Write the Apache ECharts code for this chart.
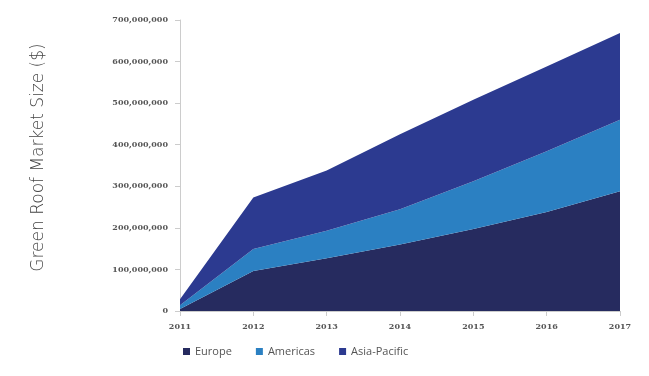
<!DOCTYPE html>
<html><head><meta charset="utf-8">
<script src="https://cdn.jsdelivr.net/npm/echarts@6/dist/echarts.min.js"></script>
<style>html,body{margin:0;padding:0;background:#fff}#c{width:649px;height:376px}</style>
</head><body><div id="c"></div>
<script>
const years = ['2011','2012','2013','2014','2015','2016','2017'];
const europe = [5000000, 96000000, 127000000, 160000000, 197000000, 238000000, 288000000];
const americas = [9000000, 53000000, 66000000, 85000000, 115000000, 146000000, 172000000];
const asiaPacific = [14000000, 124000000, 145000000, 180000000, 196000000, 204000000, 209000000];
const seriesNames = ['Europe','Americas','Asia-Pacific'];
const colors = ['#262b5f','#2b80c2','#2c3a90'];
const yTitle = 'Green Roof Market Size ($)';

const chart = echarts.init(document.getElementById('c'));
const mk = (name, data, color) => ({
  name, type: 'line', stack: 'total', data, symbol: 'none',
  lineStyle: {width: 0}, itemStyle: {color},
  areaStyle: {color, opacity: 1}
});
chart.setOption({
  animation: false,
  grid: {left: 180, right: 29, top: 20, bottom: 65},
  legend: {
    bottom: 14, left: 178, itemWidth: 7, itemHeight: 7, itemGap: 24,
    icon: 'rect', textStyle: {fontFamily: 'Open Sans', fontSize: 11, color: '#555'},
    data: seriesNames
  },
  xAxis: {
    type: 'category', data: years, boundaryGap: false,
    axisLine: {lineStyle: {color: '#ccc'}},
    axisTick: {show: true, lineStyle: {color: '#ccc'}},
    axisLabel: {fontFamily: 'DejaVu Serif', fontSize: 8, color: '#555', margin: 12, fontWeight: 'bold'}
  },
  yAxis: {
    type: 'value', min: 0, max: 700000000, interval: 100000000,
    name: yTitle, nameLocation: 'middle', nameGap: 133,
    nameTextStyle: {fontFamily: 'DejaVu Sans', fontSize: 17, color: '#444', fontWeight: 200, padding: [0, 0, 0, 16]},
    axisLine: {show: true, lineStyle: {color: '#ccc'}},
    axisTick: {show: true, lineStyle: {color: '#ccc'}},
    splitLine: {show: false},
    axisLabel: {
      fontFamily: 'DejaVu Serif', fontSize: 8, color: '#555', margin: 12, fontWeight: 'bold',
      formatter: v => v.toLocaleString('en-US')
    }
  },
  series: [mk(seriesNames[0], europe, colors[0]), mk(seriesNames[1], americas, colors[1]), mk(seriesNames[2], asiaPacific, colors[2])]
});
</script></body></html>
